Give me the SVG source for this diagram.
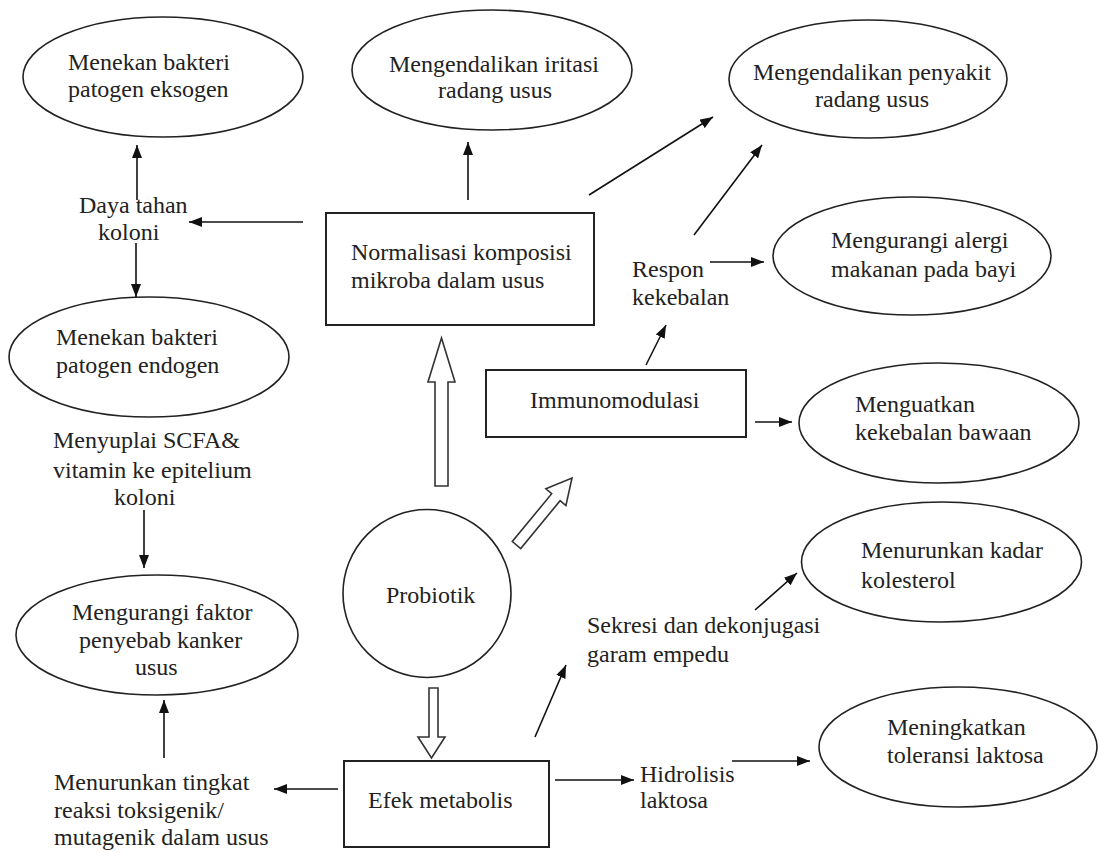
<svg xmlns="http://www.w3.org/2000/svg" width="1100" height="853" viewBox="0 0 1100 853">
<defs>
<marker id="ah" markerUnits="userSpaceOnUse" markerWidth="13" markerHeight="10" refX="13" refY="5" orient="auto">
<path d="M0,0 L13,5 L0,10 z" fill="#111"/>
</marker>
<style>
text{font-family:"Liberation Serif","Times New Roman",serif;font-size:24px;fill:#222}
.el{fill:none;stroke:#222;stroke-width:1.6}
.bx{fill:none;stroke:#222;stroke-width:2}
.ar{fill:none;stroke:#111;stroke-width:1.6;marker-end:url(#ah)}
.ho{fill:#fff;stroke:#333;stroke-width:1.6;stroke-linejoin:miter}
</style>
</defs>
<rect width="1100" height="853" fill="#fff"/>

<g id="n-eksogen"><ellipse class="el" cx="163" cy="77" rx="140" ry="60"/><text x="68" y="70">Menekan bakteri</text><text x="68" y="97">patogen eksogen</text></g>
<g id="n-iritasi"><ellipse class="el" cx="492" cy="70" rx="140" ry="60"/><text x="389" y="72">Mengendalikan iritasi</text><text x="438" y="98">radang usus</text></g>
<g id="n-penyakit"><ellipse class="el" cx="868" cy="79" rx="139" ry="59"/><text x="753" y="80">Mengendalikan penyakit</text><text x="815" y="107">radang usus</text></g>
<g id="n-alergi"><ellipse class="el" cx="912" cy="256" rx="139" ry="59"/><text x="831" y="248">Mengurangi alergi</text><text x="831" y="277">makanan pada bayi</text></g>
<g id="n-menguatkan"><ellipse class="el" cx="939" cy="423" rx="140" ry="60"/><text x="855" y="412">Menguatkan</text><text x="855" y="440">kekebalan bawaan</text></g>
<g id="n-endogen"><ellipse class="el" cx="149" cy="357" rx="140" ry="60"/><text x="56" y="345">Menekan bakteri</text><text x="56" y="373">patogen endogen</text></g>
<g id="l-daya"><text x="79" y="213">Daya tahan</text><text x="98" y="240">koloni</text></g>
<g id="n-normalisasi"><rect class="bx" x="326" y="213" width="268" height="112"/><text x="351" y="260">Normalisasi komposisi</text><text x="351" y="288">mikroba dalam usus</text></g>
<g id="l-respon"><text x="632" y="277">Respon</text><text x="632" y="305">kekebalan</text></g>
<g id="n-immuno"><rect class="bx" x="486" y="370" width="260" height="67"/><text x="530" y="408">Immunomodulasi</text></g>
<g id="l-menyuplai"><text x="53" y="448">Menyuplai SCFA&amp;</text><text x="53" y="478">vitamin ke epitelium</text><text x="114" y="505">koloni</text></g>
<g id="n-kanker"><ellipse class="el" cx="157" cy="635" rx="141" ry="60"/><text x="72" y="620">Mengurangi faktor</text><text x="79" y="648">penyebab kanker</text><text x="135" y="675">usus</text></g>
<g id="n-probiotik"><circle class="el" cx="427" cy="593.5" r="84"/><text x="386" y="603">Probiotik</text></g>
<g id="n-kolesterol"><ellipse class="el" cx="941.5" cy="562" rx="140" ry="60"/><text x="861" y="558">Menurunkan kadar</text><text x="861" y="588">kolesterol</text></g>
<g id="l-sekresi"><text x="587" y="633">Sekresi dan dekonjugasi</text><text x="587" y="662">garam empedu</text></g>
<g id="l-menurunkan"><text x="54" y="790">Menurunkan tingkat</text><text x="54" y="818">reaksi toksigenik/</text><text x="54" y="845">mutagenik dalam usus</text></g>
<g id="n-efek"><rect class="bx" x="344" y="761" width="205" height="86"/><text x="368" y="808">Efek metabolis</text></g>
<g id="l-hidrolisis"><text x="640" y="782">Hidrolisis</text><text x="640" y="808">laktosa</text></g>
<g id="n-laktosa"><ellipse class="el" cx="958" cy="747" rx="139" ry="60"/><text x="887" y="735">Meningkatkan</text><text x="887" y="763">toleransi laktosa</text></g>

<g id="connectors">
<line class="ar" x1="137" y1="200" x2="137" y2="145"/>
<line class="ar" x1="303" y1="222" x2="189" y2="222"/>
<line class="ar" x1="136" y1="243" x2="136" y2="297"/>
<line class="ar" x1="468" y1="200" x2="468" y2="142"/>
<line class="ar" x1="589" y1="195" x2="713" y2="117"/>
<line class="ar" x1="694" y1="235" x2="762" y2="145"/>
<line class="ar" x1="710" y1="262" x2="764" y2="262"/>
<line class="ar" x1="646" y1="365" x2="666" y2="325"/>
<line class="ar" x1="755" y1="422" x2="792" y2="422"/>
<line class="ar" x1="144" y1="510" x2="144" y2="568"/>
<line class="ar" x1="164" y1="758" x2="164" y2="700"/>
<line class="ar" x1="338" y1="789" x2="274" y2="789"/>
<line class="ar" x1="535" y1="737" x2="566" y2="665"/>
<line class="ar" x1="755" y1="610" x2="797" y2="573"/>
<line class="ar" x1="555" y1="780" x2="634" y2="780"/>
<line class="ar" x1="732" y1="761" x2="810" y2="761"/>
<polygon class="ho" points="435,486 448,486 448,382 455,382 441.5,338 428,382 435,382"/>
<polygon class="ho" points="429,688 438,688 438,737 445,737 431.5,758 418,737 429,737"/>
<polygon class="ho" points="512.3,541.5 520.7,548.5 560.1,500.7 565.9,505.6 572,478 545.9,488.8 551.7,493.7"/>
</g>
</svg>
